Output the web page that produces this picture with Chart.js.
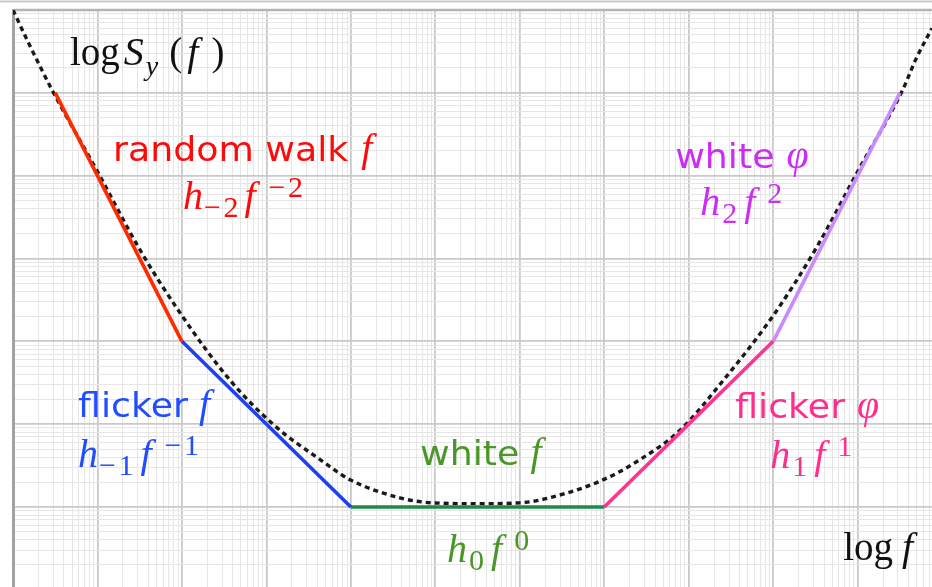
<!DOCTYPE html>
<html>
<head>
<meta charset="utf-8">
<script src="https://cdn.jsdelivr.net/npm/chart.js@4/dist/chart.umd.min.js"></script>
<style>
  html, body { margin: 0; padding: 0; background: #ffffff; overflow: hidden; }
  #wrap { width: 932px; height: 587px; position: relative; }
</style>
</head>
<body>
<div id="wrap"><canvas id="c" width="932" height="587"></canvas></div>
<script>
// Power-law asymptotes of the noise spectrum, in decades (log10 f, log10 S)
const breakLogF = [0.5, 2, 4, 7, 9, 10.5];
const breakLogS = [6, 3, 1, 1, 3, 6];
const regimeNames = ['random walk f', 'flicker f', 'white f', 'flicker φ', 'white φ'];
const regimeColors = ['#ff2a00', '#1f40f0', '#1b8a4c', '#ff3392', '#c98cfb'];

// Total spectrum S_y(f) (dotted curve), in decades
const totalLogF = [0, 0.18, 0.47, 1.0, 1.5, 2.0, 2.57, 3.11, 3.64, 3.99, 4.58, 4.97, 5.5,
                   6.0, 6.56, 6.99, 7.42, 7.9, 8.41, 9.0, 9.5, 10.0, 10.53, 10.7, 10.88];
const totalLogS = [7.0, 6.61, 6.02, 5.05, 4.11, 3.31, 2.53, 1.97, 1.57, 1.33, 1.11, 1.05, 1.04,
                   1.05, 1.17, 1.33, 1.57, 1.93, 2.53, 3.31, 4.11, 5.05, 6.03, 6.43, 6.78];

// Visible extent of the log-log paper, in decades
const logFRange = [0, 10.88];
const logSRange = [0.034, 7];

// Text runs: [text, kind, size, gapBefore, baselineShift]
// kind: 's' sans, 'm' upright math, 'i' italic math
const annotations = [
  { at: [0.675, 6.336], color: '#111111', runs: [
      ['log', 'm', 39], ['S', 'i', 40, 4], ['y', 'i', 28, 2, 10],
      ['(', 'm', 39, 11], ['f', 'i', 40, 5], [')', 'm', 39, 13] ] },
  { at: [1.184, 5.177], color: '#ff0a0a', runs: [
      ['random walk', 's', 33], ['f', 'i', 40, 13] ] },
  { at: [2.013, 4.597], color: '#ff0a0a', runs: [
      ['h', 'i', 40], ['\u2212\u200a2', 'm', 30, 1, 8], ['f', 'i', 40, 6], ['\u2212\u200a2', 'm', 30, 13, -12] ] },
  { at: [7.839, 5.092], color: '#cc2cf6', runs: [
      ['white', 's', 33], ['φ', 'i', 40, 12] ] },
  { at: [8.135, 4.525], color: '#cc2cf6', runs: [
      ['h', 'i', 40], ['2', 'm', 30, 2, 8], ['f', 'i', 40, 7], ['2', 'm', 30, 12, -12] ] },
  { at: [0.770, 2.086], color: '#1f4dff', runs: [
      ['flicker', 's', 33], ['f', 'i', 40, 11] ] },
  { at: [0.770, 1.483], color: '#1f4dff', runs: [
      ['h', 'i', 40], ['\u2212\u200a1', 'm', 30, 1, 8], ['f', 'i', 40, 7], ['\u2212\u200a1', 'm', 30, 13, -12] ] },
  { at: [4.819, 1.507], color: '#4b9628', runs: [
      ['white', 's', 33], ['f', 'i', 40, 11] ] },
  { at: [5.139, 0.336], color: '#4b9628', runs: [
      ['h', 'i', 40], ['0', 'm', 30, 2, 8], ['f', 'i', 40, 7], ['0', 'm', 30, 12, -12] ] },
  { at: [8.55, 2.074], color: '#ff2d8c', runs: [
      ['flicker', 's', 33], ['φ', 'i', 40, 12] ] },
  { at: [8.964, 1.47], color: '#ff2d8c', runs: [
      ['h', 'i', 40], ['1', 'm', 30, 2, 8], ['f', 'i', 40, 7], ['1', 'm', 30, 12, -12] ] },
  { at: [9.828, 0.36], color: '#111111', runs: [
      ['log', 'm', 39], ['f', 'i', 40, 9] ] }
];

const SANS_STRETCH = 1.1;

// Grid ticks at 1..9 x 10^k inside [min, max]; decades are major
function decadeTicks(min, max) {
  const ticks = [];
  for (let k = Math.floor(min); k <= Math.ceil(max); k++) {
    for (let m = 1; m <= 9; m++) {
      const v = k + Math.log10(m);
      if (v >= min - 1e-9 && v <= max + 1e-9) ticks.push({ value: v, major: m === 1 });
    }
  }
  return ticks;
}

const gridStyle = {
  drawTicks: false,
  color: (c) => (c.tick && c.tick.major) ? '#c9c9c9' : '#e6e6e6',
  lineWidth: (c) => (c.tick && c.tick.major) ? 1.8 : 1
};

const segmentDatasets = regimeNames.map((name, i) => ({
  label: name,
  data: [
    { x: breakLogF[i], y: breakLogS[i] },
    { x: breakLogF[i + 1], y: breakLogS[i + 1] }
  ],
  borderColor: regimeColors[i],
  borderWidth: 3.6,
  pointRadius: 0,
  fill: false,
  order: 1
}));

const totalDataset = {
  label: 'S_y(f)',
  data: totalLogF.map((f, i) => ({ x: f, y: totalLogS[i] })),
  borderColor: '#1a1a1a',
  borderWidth: 3.4,
  borderDash: [5, 4],
  cubicInterpolationMode: 'monotone',
  pointRadius: 0,
  fill: false,
  order: 5
};

// Frame of the log-log paper: top edge and outer rule
const framePlugin = {
  id: 'frame',
  beforeDatasetsDraw(chart) {
    const { ctx, chartArea: a, width } = chart;
    ctx.save();
    ctx.strokeStyle = '#c9c9c9';
    ctx.lineWidth = 2;
    ctx.beginPath();
    ctx.moveTo(0, a.top - 8.5);
    ctx.lineTo(width, a.top - 8.5);
    ctx.stroke();
    ctx.strokeStyle = '#b4b4b4';
    ctx.lineWidth = 2.5;
    ctx.beginPath();
    ctx.moveTo(a.left, a.top);
    ctx.lineTo(a.right, a.top);
    ctx.stroke();
    ctx.restore();
  }
};

const labelPlugin = {
  id: 'regimeLabels',
  afterDatasetsDraw(chart) {
    const { ctx, scales: { x, y } } = chart;
    ctx.save();
    ctx.textBaseline = 'alphabetic';
    ctx.textAlign = 'left';
    annotations.forEach((a) => {
      let cx = x.getPixelForValue(a.at[0]);
      const by = y.getPixelForValue(a.at[1]);
      ctx.fillStyle = a.color;
      a.runs.forEach(([t, kind, size, gap = 0, dy = 0]) => {
        cx += gap;
        if (kind === 's') {
          ctx.font = `${size}px "DejaVu Sans", sans-serif`;
          const w = ctx.measureText(t).width * SANS_STRETCH;
          ctx.save();
          ctx.translate(cx, by + dy);
          ctx.scale(SANS_STRETCH, 1);
          ctx.fillText(t, 0, 0);
          ctx.restore();
          cx += w;
        } else {
          ctx.font = `${kind === 'i' ? 'italic ' : ''}${size}px "Liberation Serif", serif`;
          ctx.fillText(t, cx, by + dy);
          cx += ctx.measureText(t).width;
        }
      });
    });
    ctx.restore();
  }
};

new Chart(document.getElementById('c'), {
  type: 'line',
  data: { datasets: [...segmentDatasets, totalDataset] },
  options: {
    responsive: false,
    animation: false,
    devicePixelRatio: 1,
    layout: { padding: { left: 13, top: 10, right: 0, bottom: 0 } },
    plugins: { legend: { display: false }, tooltip: { enabled: false } },
    scales: {
      x: {
        type: 'linear',
        min: logFRange[0],
        max: logFRange[1],
        ticks: { display: false },
        grid: gridStyle,
        border: { display: false },
        afterBuildTicks: (axis) => { axis.ticks = decadeTicks(axis.min, axis.max); }
      },
      y: {
        type: 'linear',
        min: logSRange[0],
        max: logSRange[1],
        ticks: { display: false },
        grid: gridStyle,
        border: { display: true, color: '#a2a2a2', width: 3 },
        afterBuildTicks: (axis) => { axis.ticks = decadeTicks(axis.min, axis.max); }
      }
    }
  },
  plugins: [framePlugin, labelPlugin]
});
</script>
</body>
</html>
